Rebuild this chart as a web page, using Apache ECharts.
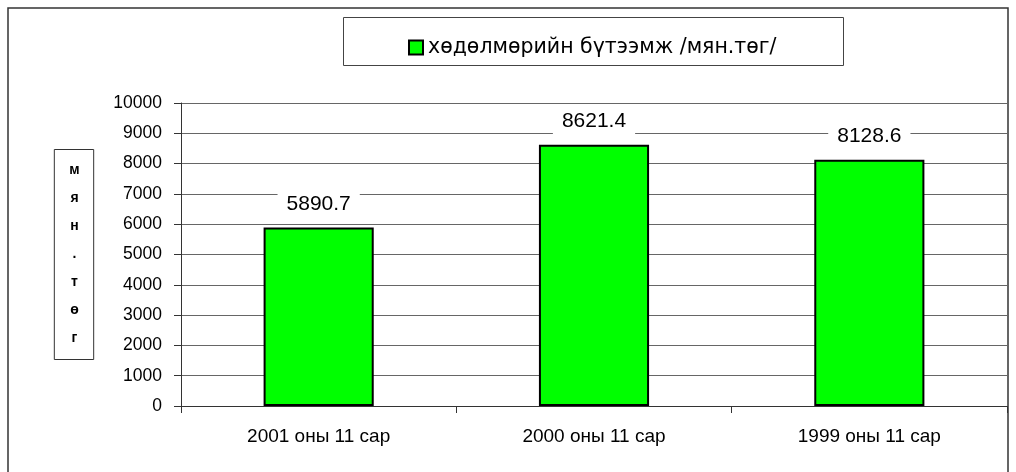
<!DOCTYPE html>
<html>
<head>
<meta charset="utf-8">
<script src="https://cdn.jsdelivr.net/npm/echarts@6/dist/echarts.min.js"></script>
<style>
  html, body { margin: 0; padding: 0; background: #fff; }
  #main { width: 1016px; height: 472px; }
</style>
</head>
<body>
<div id="main"></div>
<script>
// данные
var categories = ['2001 оны 11 сар', '2000 оны 11 сар', '1999 оны 11 сар'];
var values = [5890.7, 8621.4, 8128.6];
var seriesName = 'хөдөлмөрийн бүтээмж /мян.төг/';
var axisName = 'мян.төг';

var font = 'Liberation Sans, Arial, sans-serif';

var myChart = echarts.init(document.getElementById('main'));
var option = {
    backgroundColor: '#fff',
    animation: false,
    grid: { left: 181, right: 9, top: 103, bottom: 66 },
    legend: {
        left: 403,
        top: 32,
        itemWidth: 14,
        itemHeight: 14,
        itemGap: 0,
        textStyle: { fontFamily: 'DejaVu Sans, sans-serif', fontSize: 20.5, color: '#000' },
        data: [{ name: seriesName, icon: 'rect' }]
    },
    graphic: [
        { type: 'rect', shape: { x: 8, y: 8, width: 1000, height: 480 },
          style: { fill: 'none', stroke: '#333', lineWidth: 1.5 }, silent: true },
        { type: 'rect', shape: { x: 343.5, y: 17.5, width: 500, height: 48 },
          style: { fill: 'none', stroke: '#444', lineWidth: 1 }, silent: true }
    ],
    xAxis: {
        type: 'category',
        data: categories,
        axisLine: { lineStyle: { color: '#333' } },
        axisTick: { show: true, length: 7, lineStyle: { color: '#333' } },
        axisLabel: { margin: 21, fontFamily: font, fontSize: 19, color: '#000' }
    },
    yAxis: {
        type: 'value',
        min: 0,
        max: 10000,
        interval: 1000,
        name: axisName.split('').join('\n'),
        nameLocation: 'middle',
        nameRotate: 0,
        nameGap: 107,
        nameTextStyle: {
            fontFamily: font, fontSize: 14, fontWeight: 'bold', color: '#000',
            lineHeight: 28, borderColor: '#333', borderWidth: 1,
            padding: [7, 14, 7, 15], align: 'center'
        },
        axisLine: { show: true, lineStyle: { color: '#333' } },
        axisTick: { show: true, length: 7, lineStyle: { color: '#333' } },
        axisLabel: {
            margin: 19, fontFamily: font, fontSize: 17.5, color: '#000',
            formatter: function (v) { return String(v); }
        },
        splitLine: { lineStyle: { color: '#666' } }
    },
    series: [{
        name: seriesName,
        type: 'bar',
        data: values,
        barWidth: '40%',
        itemStyle: { color: '#00ff00', borderColor: '#000', borderWidth: 2 },
        label: {
            show: true,
            position: 'top',
            distance: 10,
            fontFamily: font,
            fontSize: 21,
            color: '#000',
            backgroundColor: '#fff',
            padding: [3, 9]
        }
    }]
};
myChart.setOption(option);
</script>
</body>
</html>
